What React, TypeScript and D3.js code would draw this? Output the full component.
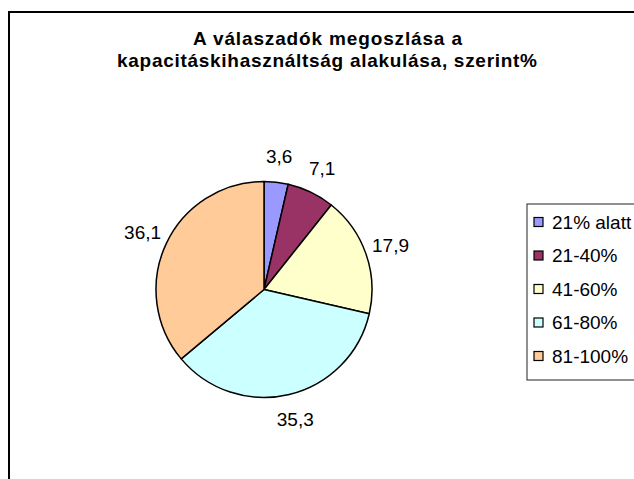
import React from 'react';
import * as d3 from 'd3';

// Data
const categories = ['21% alatt', '21-40%', '41-60%', '61-80%', '81-100%'];
const values = [3.6, 7.1, 17.9, 35.3, 36.1];
const valueLabels = ['3,6', '7,1', '17,9', '35,3', '36,1'];
const colors = ['#9999FF', '#993366', '#FFFFCC', '#CCFFFF', '#FFCC99'];
const titleLines = ['A válaszadók megoszlása a', 'kapacitáskihasználtság alakulása, szerint%'];

const W = 634;
const H = 479;
const FONT = "Arial, 'Liberation Sans', sans-serif";

export default function App() {
  const cx = 264;
  const cy = 289.5;
  const radius = 108;
  const labelRadius = 134;

  const pie = d3.pie<number>().sort(null).value(d => d);
  const arcs = pie(values);
  const arc = d3.arc<d3.PieArcDatum<number>>().innerRadius(0).outerRadius(radius);
  const labelArc = d3.arc<d3.PieArcDatum<number>>().innerRadius(labelRadius).outerRadius(labelRadius);

  // legend layout
  const legendX = 527;
  const legendTop = 204;
  const rowStep = 33.5;
  const legendY = d3.scaleLinear().domain([0, categories.length - 1]).range([legendTop + 18, legendTop + 18 + rowStep * 4]);

  return (
    <svg width={W} height={H} style={{ position: 'absolute', left: 0, top: 0, background: '#fff' }}>
      <rect x={0} y={0} width={W} height={H} fill="#fff" />
      {/* chart area frame, cut at right and bottom */}
      <rect x={9} y={12} width={W + 40} height={H + 40} fill="#fff" stroke="#000" strokeWidth={2} />

      <g fontFamily={FONT} fontWeight="bold" fontSize={19} fill="#000" textAnchor="middle">
        <text x={327.5} y={45} textLength={269} lengthAdjust="spacing">{titleLines[0]}</text>
        <text x={327} y={67} textLength={420} lengthAdjust="spacing">{titleLines[1]}</text>
      </g>

      <g transform={`translate(${cx},${cy})`}>
        {arcs.map((a, i) => (
          <path key={i} d={arc(a) || ''} fill={colors[i]} stroke="#000" strokeWidth={1.5} strokeLinejoin="round" />
        ))}
        {arcs.map((a, i) => {
          const [lx, ly] = labelArc.centroid(a);
          return (
            <text key={'l' + i} x={lx} y={ly} dy="0.35em" textAnchor="middle"
              fontFamily={FONT} fontSize={19} fill="#000">{valueLabels[i]}</text>
          );
        })}
      </g>

      <rect x={legendX} y={legendTop} width={W} height={176} fill="#fff" stroke="#222" strokeWidth={1} />
      {categories.map((c, i) => (
        <g key={c} transform={`translate(0,${legendY(i)})`}>
          <rect x={534} y={-4.5} width={9} height={9} fill={colors[i]} stroke="#000" strokeWidth={1.2} />
          <text x={552} y={0} dy="0.35em" fontFamily={FONT} fontSize={19} fill="#000">{c}</text>
        </g>
      ))}
    </svg>
  );
}
